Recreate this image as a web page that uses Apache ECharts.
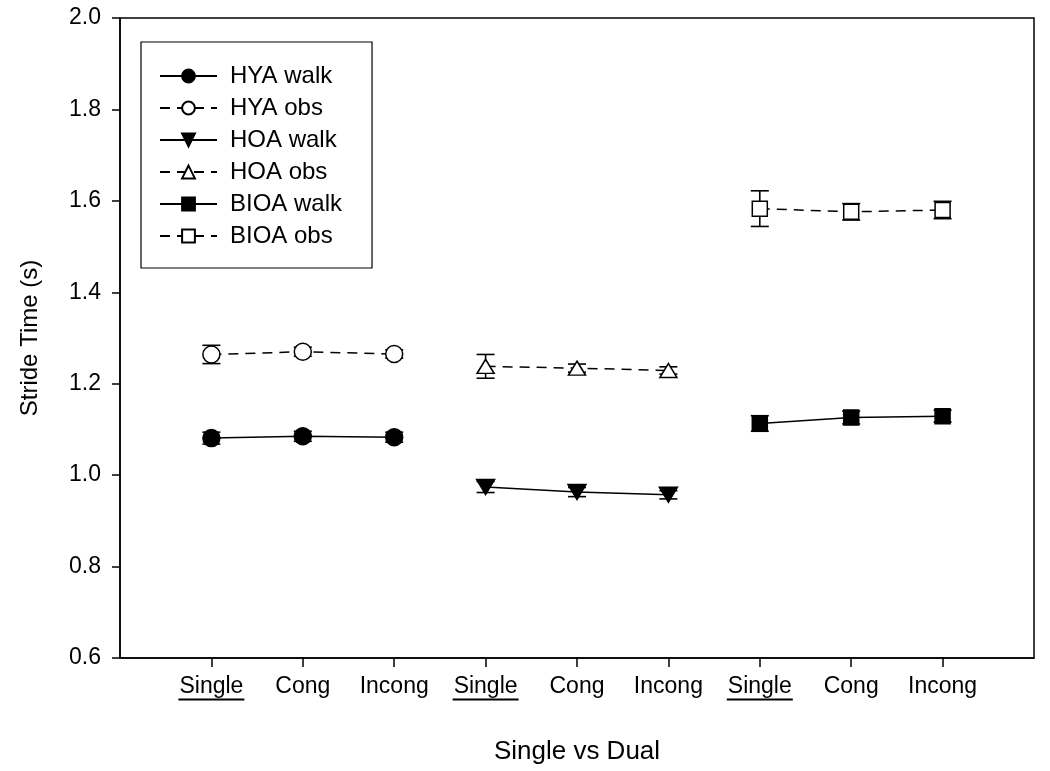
<!DOCTYPE html>
<html>
<head>
<meta charset="utf-8">
<script src="https://cdn.jsdelivr.net/npm/echarts@6/dist/echarts.min.js"></script>
<style>
html,body{margin:0;padding:0;background:#fff;}
#chart{width:1050px;height:771px;}
</style>
</head>
<body>
<div id="chart"></div>
<script>
// ---- data ----
var tickLabels = ['Single', 'Cong', 'Incong', 'Single', 'Cong', 'Incong', 'Single', 'Cong', 'Incong'];
var tickPositions = [1, 2, 3, 4, 5, 6, 7, 8, 9];
var hyaX = [1, 2, 3];
var hoaX = [4, 5, 6];
var bioaX = [7, 8, 9];

var hyaWalk = [1.081, 1.085, 1.083];
var hyaWalkErr = [0.013, 0.011, 0.011];
var hyaObs = [1.264, 1.270, 1.265];
var hyaObsErr = [0.020, 0.010, 0.009];
var hoaWalk = [0.974, 0.963, 0.957];
var hoaWalkErr = [0.012, 0.010, 0.009];
var hoaObs = [1.238, 1.234, 1.229];
var hoaObsErr = [0.026, 0.009, 0.008];
var bioaWalk = [1.113, 1.126, 1.129];
var bioaWalkErr = [0.017, 0.014, 0.013];
var bioaObs = [1.583, 1.576, 1.580];
var bioaObsErr = [0.039, 0.018, 0.019];

var seriesNames = ['HYA walk', 'HYA obs', 'HOA walk', 'HOA obs', 'BIOA walk', 'BIOA obs'];

// ---- build ----
function pairs(xs, ys) { return xs.map(function (x, i) { return [x, ys[i]]; }); }
function errTriples(xs, ys, es) { return xs.map(function (x, i) { return [x, ys[i], es[i]]; }); }

var FONT = 'Liberation Sans, Arial, sans-serif';
var DASH = [10, 7];

function lineSeries(name, xs, ys, symbol, size, filled, dashed, rotate) {
  return {
    name: name,
    type: 'line',
    data: pairs(xs, ys),
    symbol: symbol,
    symbolSize: size,
    symbolRotate: rotate || 0,
    showAllSymbol: true,
    z: 3,
    lineStyle: { color: '#000', width: 1.5, type: dashed ? DASH : 'solid' },
    itemStyle: {
      color: filled ? '#000' : '#fff',
      borderColor: '#000',
      borderWidth: 1.5
    },
    emphasis: { disabled: true }
  };
}

var errData = []
  .concat(errTriples(hyaX, hyaWalk, hyaWalkErr))
  .concat(errTriples(hyaX, hyaObs, hyaObsErr))
  .concat(errTriples(hoaX, hoaWalk, hoaWalkErr))
  .concat(errTriples(hoaX, hoaObs, hoaObsErr))
  .concat(errTriples(bioaX, bioaWalk, bioaWalkErr))
  .concat(errTriples(bioaX, bioaObs, bioaObsErr));

var errSeries = {
  type: 'custom',
  name: 'err',
  data: errData,
  z: 1,
  silent: true,
  encode: { x: 0, y: 1 },
  renderItem: function (params, api) {
    var x = api.value(0), y = api.value(1), e = api.value(2);
    var lo = api.coord([x, y - e]);
    var hi = api.coord([x, y + e]);
    var hw = 9;
    var st = { stroke: '#000', lineWidth: 1.6 };
    return {
      type: 'group',
      children: [
        { type: 'line', shape: { x1: lo[0], y1: lo[1], x2: hi[0], y2: hi[1] }, style: st },
        { type: 'line', shape: { x1: lo[0] - hw, y1: lo[1], x2: lo[0] + hw, y2: lo[1] }, style: st },
        { type: 'line', shape: { x1: hi[0] - hw, y1: hi[1], x2: hi[0] + hw, y2: hi[1] }, style: st }
      ]
    };
  }
};

var option = {
  animation: false,
  backgroundColor: '#fff',
  grid: {
    left: 120, right: 16, top: 18, bottom: 113,
    show: true, borderColor: '#000', borderWidth: 1.5, backgroundColor: 'transparent'
  },
  legend: {
    data: seriesNames,
    orient: 'vertical',
    left: 141, top: 42,
    borderColor: '#000', borderWidth: 1.2,
    padding: [22, 30, 20, 18],
    itemWidth: 57, itemHeight: 16,
    itemGap: 8,
    textStyle: { fontFamily: FONT, fontSize: 24, color: '#000', lineHeight: 22, padding: [0, 0, 0, 8] },
    selectedMode: false
  },
  xAxis: {
    type: 'value',
    min: 0, max: 10, interval: 1,
    name: 'Single vs Dual',
    nameLocation: 'middle',
    nameGap: 81,
    nameTextStyle: { fontFamily: FONT, fontSize: 26, color: '#000' },
    splitLine: { show: false },
    axisLine: { show: true, lineStyle: { color: '#000', width: 1.5 } },
    axisTick: { show: true, length: 9, lineStyle: { color: '#000', width: 1.5 }, customValues: tickPositions },
    axisLabel: {
      customValues: tickPositions,
      margin: 17,
      verticalAlign: 'top',
      fontFamily: FONT, fontSize: 23, color: '#000',
      formatter: function (v) {
        var i = Math.round(v) - 1;
        var t = tickLabels[i] || '';
        if (t === 'Single') return '{s|' + t + '}\n{u| }';
        return '{n|' + t + '}';
      },
      rich: {
        s: { fontFamily: FONT, fontSize: 23, color: '#000', lineHeight: 23 },
        n: { fontFamily: FONT, fontSize: 23, color: '#000', lineHeight: 23 },
        u: { width: 66, height: 2, lineHeight: 3, backgroundColor: '#000', fontSize: 2 }
      }
    }
  },
  yAxis: {
    type: 'value',
    min: 0.6, max: 2.0, interval: 0.2,
    name: 'Stride Time (s)',
    nameLocation: 'middle',
    nameGap: 78,
    nameRotate: 90,
    nameTextStyle: { fontFamily: FONT, fontSize: 24, color: '#000' },
    splitLine: { show: false },
    axisLine: { show: true, lineStyle: { color: '#000', width: 1.5 } },
    axisTick: { show: true, length: 8, lineStyle: { color: '#000', width: 1.5 } },
    axisLabel: {
      margin: 19,
      fontFamily: FONT, fontSize: 23, color: '#000',
      formatter: function (v) { return v.toFixed(1); }
    }
  },
  series: [
    errSeries,
    lineSeries('HYA walk', hyaX, hyaWalk, 'circle', 17, true, false),
    lineSeries('HYA obs', hyaX, hyaObs, 'circle', 17, false, true),
    lineSeries('HOA walk', hoaX, hoaWalk, 'triangle', [18, 15], true, false, 180),
    lineSeries('HOA obs', hoaX, hoaObs, 'triangle', [17, 14], false, true),
    lineSeries('BIOA walk', bioaX, bioaWalk, 'rect', 15, true, false),
    lineSeries('BIOA obs', bioaX, bioaObs, 'rect', 15, false, true)
  ]
};

var chart = echarts.init(document.getElementById('chart'), null, { renderer: 'canvas' });
chart.setOption(option);
</script>
</body>
</html>
